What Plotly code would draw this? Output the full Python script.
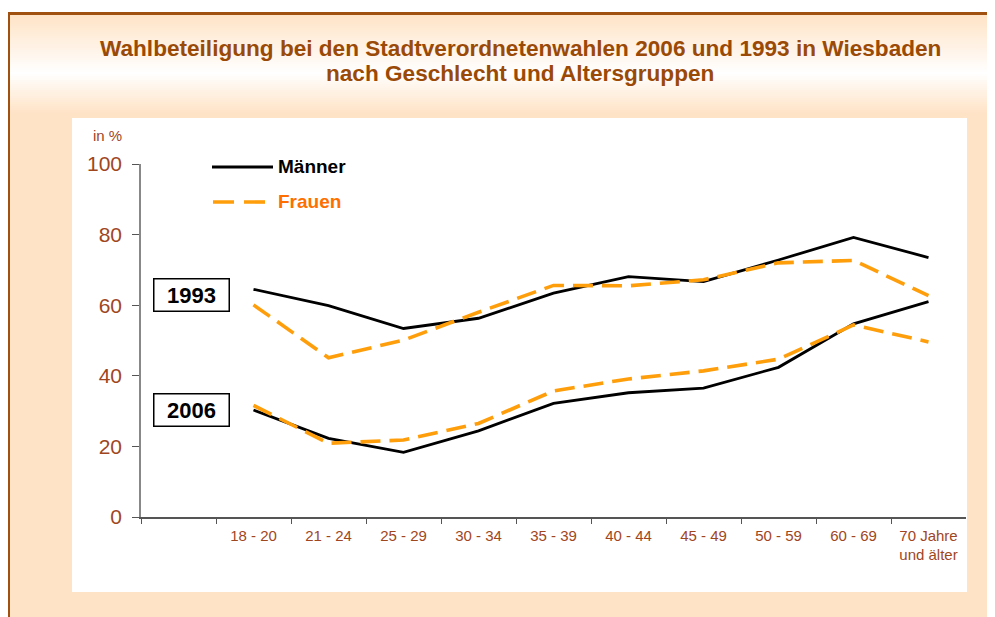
import plotly.graph_objects as go

# ---------------- data ----------------
categories = ["18 - 20", "21 - 24", "25 - 29", "30 - 34", "35 - 39",
              "40 - 44", "45 - 49", "50 - 59", "60 - 69", "70 Jahre<br>und älter"]
maenner_1993 = [64.5, 59.9, 53.4, 56.3, 63.4, 68.1, 66.7, 72.8, 79.2, 73.5]
frauen_1993 = [60.1, 45.1, 50.1, 58.0, 65.6, 65.5, 67.2, 72.0, 72.7, 62.7]
maenner_2006 = [30.3, 22.3, 18.3, 24.4, 32.2, 35.2, 36.5, 42.4, 54.7, 61.0]
frauen_2006 = [31.6, 20.9, 21.8, 26.5, 35.7, 39.1, 41.4, 44.7, 54.4, 49.6]
y_ticks = [0, 20, 40, 60, 80, 100]
title_line1 = "Wahlbeteiligung bei den Stadtverordnetenwahlen 2006 und 1993 in Wiesbaden"
title_line2 = "nach Geschlecht und Altersgruppen"

# ---------------- layout helpers ----------------
OFF = 8                      # browser body margin
PAGE_W, PAGE_H = 995, 617
W, H = PAGE_W - OFF, PAGE_H - OFF
# plot area in page pixels: x 141..966, y 164..517
L, R, T, B = 141 - OFF, PAGE_W - 966, 164 - OFF, PAGE_H - 517
PW, PH = W - L - R, H - T - B


def px(x):                    # page x pixel -> paper
    return (x - OFF - L) / PW


def py(y):                    # page y pixel -> paper
    return (PAGE_H - B - y) / PH


x_pos = [i + 1.5 for i in range(len(categories))]

BROWN = "#A0461E"
TITLE = "#9A4A06"
ORANGE = "#FF9E0B"
PEACH = (255, 227, 198)
BORDER = "#A0500F"
FONT = "Liberation Sans, Arial"

fig = go.Figure()

for yv in (maenner_1993, maenner_2006):
    fig.add_trace(go.Scatter(x=x_pos, y=yv, mode="lines",
                             line=dict(color="black", width=2.8),
                             showlegend=False, hoverinfo="skip"))
for yv in (frauen_1993, frauen_2006):
    fig.add_trace(go.Scatter(x=x_pos, y=yv, mode="lines",
                             line=dict(color=ORANGE, width=3.6, dash="20px,9px"),
                             showlegend=False, hoverinfo="skip"))

shapes = []
shapes.append(dict(type="rect", xref="paper", yref="paper",
                   x0=px(8), x1=px(PAGE_W + 5), y0=py(14), y1=py(PAGE_H + 5),
                   fillcolor="rgb(%d,%d,%d)" % PEACH, line=dict(width=0), layer="below"))


def mix(t):
    r = [round(PEACH[k] + (255 - PEACH[k]) * t) for k in range(3)]
    return "rgb(%d,%d,%d)" % tuple(r)


y_a, y_w, y_b = 14, 72, 112
step = 2
y = y_a
while y < y_b:
    if y < y_w:
        t = (y - y_a) / (y_w - y_a)
    else:
        t = 1 - (y - y_w) / (y_b - y_w)
    shapes.append(dict(type="rect", xref="paper", yref="paper",
                       x0=px(8), x1=px(PAGE_W + 5), y0=py(y), y1=py(y + step + 0.5),
                       fillcolor=mix(t), line=dict(width=0), layer="below"))
    y += step
shapes.append(dict(type="rect", xref="paper", yref="paper",
                   x0=px(72), x1=px(967), y0=py(118), y1=py(592),
                   fillcolor="white", line=dict(width=0), layer="below"))
shapes.append(dict(type="line", xref="paper", yref="paper",
                   x0=px(6), x1=px(PAGE_W + 5), y0=py(13.5), y1=py(13.5),
                   line=dict(color=BORDER, width=3), layer="below"))
shapes.append(dict(type="line", xref="paper", yref="paper",
                   x0=px(8.5), x1=px(8.5), y0=py(12), y1=py(PAGE_H + 5),
                   line=dict(color=BORDER, width=3), layer="below"))
shapes.append(dict(type="line", xref="paper", yref="paper",
                   x0=px(212), x1=px(273), y0=py(167), y1=py(167),
                   line=dict(color="black", width=3)))
shapes.append(dict(type="line", xref="paper", yref="paper",
                   x0=px(213), x1=px(265), y0=py(202), y1=py(202),
                   line=dict(color=ORANGE, width=3.6, dash="21px,10px")))

annotations = [
    dict(text="<b>%s</b>" % title_line1, xref="paper", yref="paper",
         x=px(520), y=py(49), xanchor="center", yanchor="middle", showarrow=False,
         font=dict(family=FONT, size=22.6, color=TITLE)),
    dict(text="<b>%s</b>" % title_line2, xref="paper", yref="paper",
         x=px(520), y=py(74), xanchor="center", yanchor="middle", showarrow=False,
         font=dict(family=FONT, size=22.6, color=TITLE)),
    dict(text="in %", xref="paper", yref="paper", x=px(124), y=py(135),
         xanchor="right", yanchor="middle", showarrow=False,
         font=dict(family=FONT, size=15, color=BROWN)),
    dict(text="<b>Männer</b>", xref="paper", yref="paper", x=px(276), y=py(166),
         xanchor="left", yanchor="middle", showarrow=False,
         font=dict(family=FONT, size=19, color="black")),
    dict(text="<b>Frauen</b>", xref="paper", yref="paper", x=px(276), y=py(201),
         xanchor="left", yanchor="middle", showarrow=False,
         font=dict(family=FONT, size=19, color="#FF6F00")),
    dict(text="<b>1993</b>", xref="paper", yref="paper", x=px(191.5), y=py(295),
         xanchor="center", yanchor="middle", showarrow=False,
         width=72, height=29, borderpad=1, bordercolor="black", borderwidth=1.5,
         bgcolor="white", font=dict(family=FONT, size=22, color="black")),
    dict(text="<b>2006</b>", xref="paper", yref="paper", x=px(191.5), y=py(410),
         xanchor="center", yanchor="middle", showarrow=False,
         width=72, height=29, borderpad=1, bordercolor="black", borderwidth=1.5,
         bgcolor="white", font=dict(family=FONT, size=22, color="black")),
]

fig.update_layout(
    width=W, height=H,
    margin=dict(l=L, r=R, t=T, b=B, pad=0),
    paper_bgcolor="white",
    plot_bgcolor="rgba(0,0,0,0)",
    font=dict(family=FONT),
    shapes=shapes,
    annotations=annotations,
    showlegend=False,
    xaxis=dict(range=[0, 11], tickmode="array", tickvals=x_pos, ticktext=categories,
               ticks="", showgrid=False, zeroline=False,
               showline=True, linecolor="#555555", linewidth=1.5,
               tickfont=dict(size=15, color=BROWN), ticklabelstandoff=4,
               minor=dict(tickmode="array", tickvals=list(range(0, 11)),
                          ticks="outside", ticklen=5, tickwidth=1.2,
                          tickcolor="#555555", showgrid=False)),
    yaxis=dict(range=[0, 100], tickmode="array", tickvals=y_ticks,
               ticks="outside", ticklen=7, tickwidth=1.2, tickcolor="#555555",
               showgrid=False, zeroline=False,
               showline=True, linecolor="#888888", linewidth=1.5,
               tickfont=dict(size=21, color=BROWN), ticklabelstandoff=6),
)

fig.write_html("out.html")
